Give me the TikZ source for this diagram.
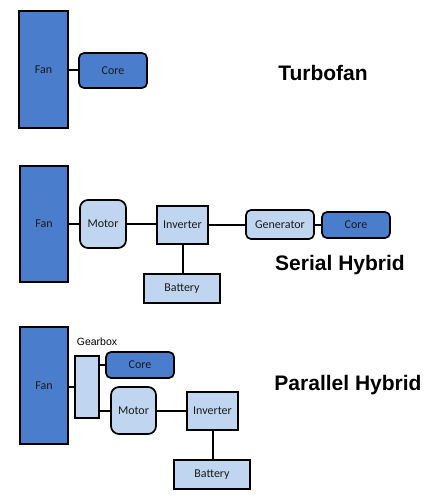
\documentclass[tikz,border=0pt]{standalone}
\usepackage{fontspec}
\setmainfont{Carlito}
\newfontfamily\arialfont{Liberation Sans}
\definecolor{darkblue}{HTML}{4A7DCC}
\definecolor{lightblue}{HTML}{C0D6F0}
\definecolor{txt}{HTML}{1A1A1A}
\begin{document}
\begin{tikzpicture}[x=1pt,y=-1pt,
  box/.style={draw=black,line width=1.7pt,inner sep=0pt,outer sep=0pt,font=\fontsize{12}{14}\selectfont,text=txt},
  dark/.style={box,fill=darkblue},
  light/.style={box,fill=lightblue},
  rnd/.style={rounded corners=5pt},
  rndb/.style={rounded corners=8pt},
  conn/.style={line width=2pt,draw=black},
  title/.style={font=\arialfont\bfseries\fontsize{21}{25}\selectfont,text=black},
  small/.style={font=\arialfont\fontsize{10.5}{12}\selectfont,text=black}
]
\useasboundingbox (0,0) rectangle (446,500);
% Turbofan
\node[dark,minimum width=49pt,minimum height=117pt] (fanA) at (43.5,69.5) {Fan};
\node[dark,rnd,minimum width=68pt,minimum height=35pt] (coreA) at (113,70.5) {Core};
\node[title] (titleA) at (323,73) {Turbofan};
\draw[conn] (fanA.east |- coreA.west) -- (coreA.west);
% Serial hybrid
\node[dark,minimum width=48pt,minimum height=116pt] (fanB) at (44,224) {Fan};
\node[light,rndb,minimum width=46pt,minimum height=48pt] (motorB) at (103,224) {Motor};
\node[light,minimum width=51pt,minimum height=38pt] (invB) at (182.5,225) {Inverter};
\node[light,rnd,minimum width=68pt,minimum height=29pt] (genB) at (280,224.5) {Generator};
\node[dark,rnd,minimum width=68pt,minimum height=26pt] (coreB) at (356,225) {Core};
\node[light,minimum width=76pt,minimum height=29pt] (batB) at (182,288.5) {Battery};
\node[title] (titleB) at (340,265) {Serial Hybrid};
\draw[conn] (fanB.east |- motorB.west) -- (motorB.west);
\draw[conn] (motorB.east) -- (motorB.east -| invB.west);
\draw[conn] (invB.east) -- (invB.east -| genB.west);
\draw[conn] (genB.east) -- (genB.east -| coreB.west);
\draw[conn] (invB.south) -- (invB.south |- batB.north);
% Parallel hybrid
\node[dark,minimum width=48pt,minimum height=117pt] (fanC) at (44,385.5) {Fan};
\node[small] (gearlab) at (97,342) {Gearbox};
\node[light,minimum width=24pt,minimum height=62pt] (gearC) at (87,387) {};
\node[dark,rnd,minimum width=68pt,minimum height=26pt] (coreC) at (140,365) {Core};
\node[light,rndb,minimum width=45pt,minimum height=47pt] (motorC) at (133.5,410.5) {Motor};
\node[light,minimum width=51pt,minimum height=38pt] (invC) at (212.5,411) {Inverter};
\node[light,minimum width=76pt,minimum height=29pt] (batC) at (212,474.5) {Battery};
\node[title] (titleC) at (348,385) {Parallel Hybrid};
\draw[conn] (fanC.east |- gearC.west) -- (gearC.west);
\draw[conn] (gearC.east |- coreC.west) -- (coreC.west);
\draw[conn] (gearC.east |- motorC.west) -- (motorC.west);
\draw[conn] (motorC.east |- invC.west) -- (invC.west);
\draw[conn] (invC.south) -- (invC.south |- batC.north);
\end{tikzpicture}
\end{document}
